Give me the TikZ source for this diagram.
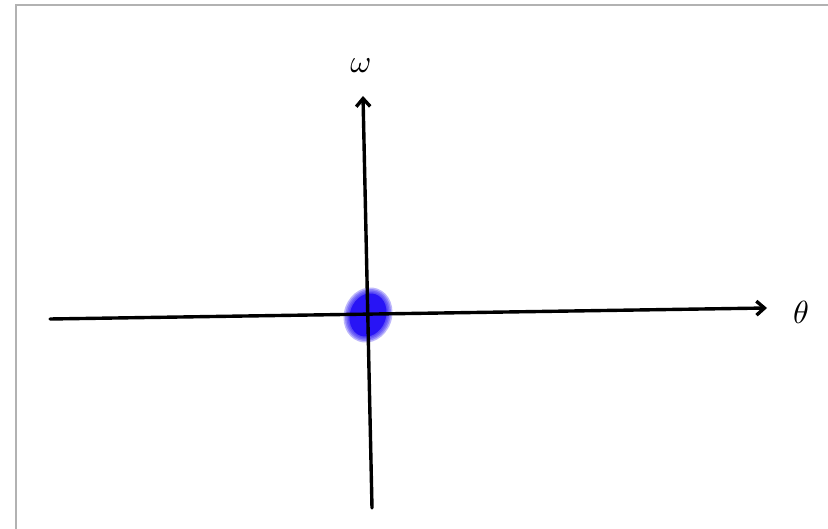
\documentclass[tikz,border=0pt]{standalone}
\usepackage{amsmath,amssymb}
\definecolor{blobblue}{RGB}{40,20,245}
\usepackage{tikz}
\usetikzlibrary{positioning, arrows.meta, calc}
\tikzset{
  frameline/.style={draw=black!30, line width=2.2pt},
  axis/.style={-{Straight Barb[length=8pt, width=14pt]}, line width=3.4pt, line cap=round},
  axlabel/.style={inner sep=0pt, scale=3.2},
  blobring/.style={fill=blobblue, fill opacity=0.3, rotate=-20}
}

\begin{document}
\begin{tikzpicture}[x=1pt, y=-1pt]
        \useasboundingbox (0,0) rectangle (828,529);
        \fill[white] (0,0) rectangle (828,529);
        \draw[frameline] (16,529) -- (16,5) -- (828,5);
        % the blurred blob at the origin
        \coordinate (orig) at (368,315);
        \foreach \r in {0,1.5,...,6}
          \fill[blobring] (orig) ellipse ({24-\r} and {28-\r});
        \fill[blobblue, rotate=-20] (orig) ellipse (18 and 22);
        \coordinate (xlo) at (50,319);
        \coordinate (xhi) at (767,308);
        \coordinate (ylo) at (372,508);
        \coordinate (yhi) at (363,96);
        \draw[axis] (xlo) -- (xhi);
        \draw[axis] (ylo) -- (yhi);
        \node[axlabel] (theta) at (801,312) {$\theta$};
        \node[axlabel] (omega) at (361,66) {$\omega$};
      \end{tikzpicture}
\end{document}
